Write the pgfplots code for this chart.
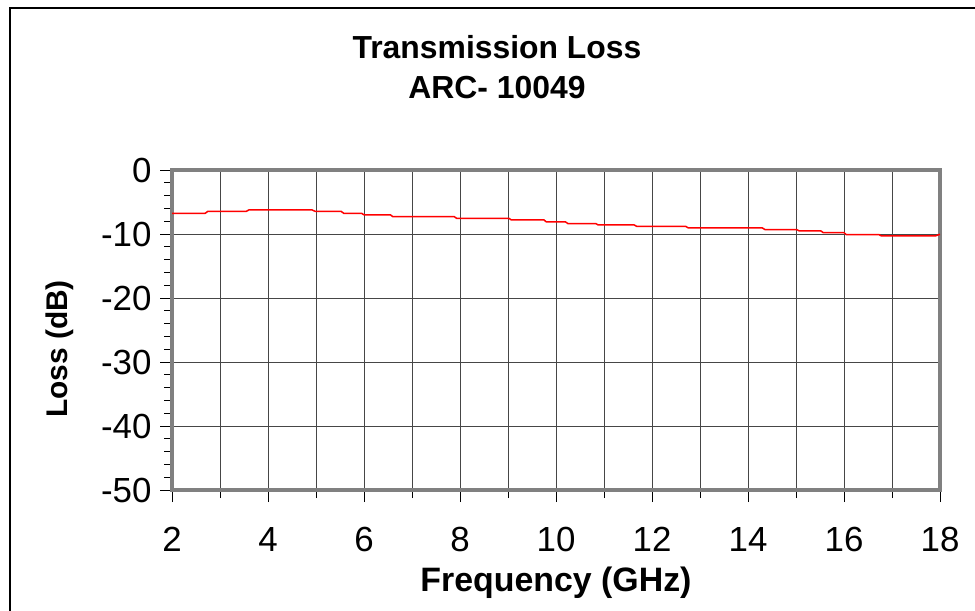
\documentclass[border=0pt]{standalone}
\usepackage{pgfplots}
\pgfplotsset{compat=1.18}
\usepackage{fontspec}
\setmainfont{Liberation Sans}

\definecolor{framegray}{RGB}{128,128,128}
\definecolor{gridgray}{RGB}{70,70,70}

\begin{document}
\begin{tikzpicture}
\useasboundingbox (0,0) rectangle (975bp,611bp);
% outer chart frame (only left and top edges show)
\draw[black, line width=2bp] (10bp,-5bp) -- (10bp,603bp) -- (980bp,603bp);

\begin{axis}[
    at={(172bp,121bp)}, anchor=south west,
    scale only axis,
    width=768bp, height=320bp,
    xmin=2, xmax=18, ymin=-50, ymax=0,
    xtick={2,4,...,18}, minor xtick={3,5,...,17},
    ytick={-50,-40,...,0}, minor ytick={-48,-46,...,-2},
    xmajorgrids, xminorgrids, ymajorgrids,
    major grid style={gridgray, line width=0.8bp},
    minor grid style={gridgray, line width=0.8bp},
    tick align=outside,
    xtick pos=bottom, ytick pos=left,
    major tick length=12bp, minor tick length=8bp,
    every tick/.style={black, line width=0.8bp},
    axis line style={framegray, line width=3.5bp},
    /pgf/number format/assume math mode=true,
    tick label style={font=\fontsize{35}{40}\selectfont},
    yticklabel style={xshift=-5bp},
    xticklabel style={yshift=-22bp},
]
\addplot[red, line width=1.5bp] coordinates {
(2,-6.77) (2.69,-6.77) (2.75,-6.45) (3.55,-6.45) (3.6,-6.25) (4.92,-6.25)
(4.98,-6.45) (5.52,-6.45) (5.58,-6.77) (5.95,-6.77) (6.0,-7.0) (6.55,-7.0)
(6.6,-7.29) (7.88,-7.29) (7.93,-7.55) (9.02,-7.55) (9.07,-7.81) (9.75,-7.81)
(9.8,-8.12) (10.2,-8.12) (10.25,-8.38) (10.83,-8.38) (10.88,-8.59) (11.63,-8.59)
(11.68,-8.8) (12.7,-8.8) (12.76,-9.06) (14.3,-9.06) (14.36,-9.33) (15.02,-9.33)
(15.07,-9.53) (15.52,-9.53) (15.57,-9.8) (16.0,-9.8) (16.05,-10.1) (16.73,-10.1)
(16.78,-10.31) (17.9,-10.31) (18,-10.05)
};
\end{axis}

\node[font=\fontsize{32}{36}\selectfont\bfseries] at (497bp,564bp) {Transmission Loss};
\node[font=\fontsize{32}{36}\selectfont\bfseries] at (497bp,523bp) {ARC- 10049};
\node[font=\fontsize{34}{38}\selectfont\bfseries] at (556bp,28bp) {Frequency (GHz)};
\node[font=\fontsize{30}{34}\selectfont\bfseries, rotate=90] at (60bp,262bp) {Loss (dB)};
\end{tikzpicture}
\end{document}
